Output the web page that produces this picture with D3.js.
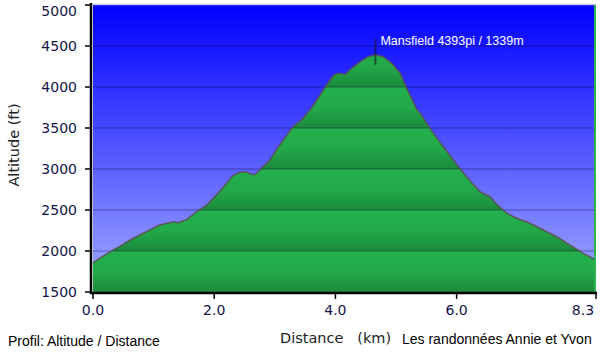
<!DOCTYPE html>
<html lang="fr">
<head>
<meta charset="UTF-8">
<title>Profil: Altitude / Distance</title>
<script src="https://d3js.org/d3.v7.min.js"></script>
<style>
  body { margin: 0; background: #fff; }
  .tick-label { font-family: "DejaVu Sans", Verdana, sans-serif; font-size: 14px; fill: #14144a; }
  .axis-title { font-family: "DejaVu Sans", Verdana, sans-serif; font-size: 14.5px; fill: #222; }
  .foot { font-family: "Liberation Sans", Arial, sans-serif; font-size: 14px; fill: #000; }
  .peak { font-family: "Liberation Sans", Arial, sans-serif; font-size: 12.5px; fill: #fff; }
</style>
</head>
<body>
<div id="chart"></div>
<script>
// profile: distance (km) and altitude (ft)
const distKm = [0.00, 0.15, 0.28, 0.45, 0.61, 0.83, 1.10, 1.33, 1.41, 1.55, 1.71, 1.88,
  2.10, 2.31, 2.43, 2.52, 2.62, 2.67, 2.76, 2.92, 3.05, 3.14, 3.30, 3.44, 3.58, 3.64,
  3.80, 3.97, 4.05, 4.16, 4.27, 4.41, 4.54, 4.66, 4.79, 4.93, 5.07, 5.18, 5.34, 5.40,
  5.56, 5.78, 6.03, 6.22, 6.39, 6.55, 6.66, 6.83, 6.99, 7.21, 7.43, 7.65, 7.87, 8.09, 8.30];
const altFt = [1855, 1930, 1990, 2060, 2134, 2216, 2317, 2357, 2345, 2385, 2480, 2560,
  2735, 2920, 2960, 2965, 2935, 2930, 2990, 3110, 3260, 3354, 3516, 3598, 3720, 3780,
  3963, 4146, 4167, 4155, 4228, 4309, 4370, 4393, 4370, 4289, 4167, 3980, 3730, 3679,
  3496, 3272, 3028, 2856, 2720, 2662, 2570, 2460, 2399, 2338, 2256, 2174, 2073, 1972, 1890];

const yTicks = [1500, 2000, 2500, 3000, 3500, 4000, 4500, 5000];
const xTicks = [0, 2, 4, 6, 8.3];
const xTickLabels = ["0.0", "2.0", "4.0", "6.0", "8.3"];

const peakKm = 4.66;
const peakFt = 4393;
const peakLabel = "Mansfield 4393pi / 1339m";

const W = 600, H = 354;
const pLeft = 93, pRight = 596, pTop = 5, pBottom = 292;

const x = d3.scaleLinear().domain([0, 8.3]).range([pLeft, pRight]);
const y = d3.scaleLinear().domain([1500, 5000]).range([pBottom, pTop]);

const svg = d3.select("#chart").append("svg")
  .attr("width", W).attr("height", H);

const defs = svg.append("defs");
const sky = defs.append("linearGradient").attr("id", "sky")
  .attr("x1", 0).attr("y1", 0).attr("x2", 0).attr("y2", 1);
sky.append("stop").attr("offset", "0%").attr("stop-color", "#0000ff");
sky.append("stop").attr("offset", "100%").attr("stop-color", "#a2abff");

// green repeats every 500 ft band
const grass = defs.append("linearGradient").attr("id", "grass")
  .attr("gradientUnits", "userSpaceOnUse")
  .attr("x1", 0).attr("x2", 0)
  .attr("y1", y(2000)).attr("y2", y(1500))
  .attr("spreadMethod", "repeat");
grass.append("stop").attr("offset", "0%").attr("stop-color", "#23b04d");
grass.append("stop").attr("offset", "50%").attr("stop-color", "#22a949");
grass.append("stop").attr("offset", "100%").attr("stop-color", "#1c8a3c");

svg.append("rect")
  .attr("x", pLeft).attr("y", pTop)
  .attr("width", pRight - pLeft).attr("height", pBottom - pTop)
  .attr("fill", "url(#sky)");

const pts = distKm.map((d, i) => [d, altFt[i]]);

svg.append("path")
  .datum(pts)
  .attr("fill", "url(#grass)")
  .attr("d", d3.area().x(d => x(d[0])).y0(y(1500)).y1(d => y(d[1])));

// grid lines
svg.selectAll(".grid")
  .data(yTicks.filter(t => t > 1500 && t < 5000))
  .enter().append("line")
  .attr("x1", pLeft).attr("x2", pRight)
  .attr("y1", d => y(d)).attr("y2", d => y(d))
  .attr("stroke", "rgba(0,0,40,0.25)")
  .attr("stroke-width", 1.5);

svg.append("path")
  .datum(pts)
  .attr("fill", "none")
  .attr("stroke", "#5e4c4c")
  .attr("stroke-opacity", 0.85)
  .attr("stroke-width", 1.5)
  .attr("d", d3.line().x(d => x(d[0])).y(d => y(d[1])));

// borders
svg.append("line")
  .attr("x1", pLeft).attr("x2", pRight).attr("y1", pTop - 0.5).attr("y2", pTop - 0.5)
  .attr("stroke", "#c4c4f4").attr("stroke-width", 1.5);
svg.append("line")
  .attr("x1", pRight - 1).attr("x2", pRight - 1).attr("y1", pTop).attr("y2", pBottom)
  .attr("stroke", "#2bb54f").attr("stroke-width", 2);

// peak marker
svg.append("line")
  .attr("x1", x(peakKm)).attr("x2", x(peakKm))
  .attr("y1", y(peakFt) - 16).attr("y2", y(peakFt) + 10)
  .attr("stroke", "rgba(20,20,40,0.6)").attr("stroke-width", 2);
svg.append("text").attr("class", "peak")
  .attr("x", x(peakKm) + 5).attr("y", y(peakFt) - 10)
  .text(peakLabel);

// y axis
svg.append("line")
  .attr("x1", pLeft - 2).attr("x2", pLeft - 2).attr("y1", pTop - 2).attr("y2", pBottom + 2)
  .attr("stroke", "#000").attr("stroke-width", 2.5);
svg.selectAll(".ytick")
  .data(yTicks).enter().append("line")
  .attr("x1", pLeft - 8).attr("x2", pLeft - 2)
  .attr("y1", d => y(d)).attr("y2", d => y(d))
  .attr("stroke", "#000").attr("stroke-width", 1.5);
svg.selectAll(".ylab")
  .data(yTicks).enter().append("text")
  .attr("class", "tick-label")
  .attr("x", pLeft - 16).attr("y", d => Math.max(y(d) + 5, 16))
  .attr("text-anchor", "end")
  .text(d => d);

// x axis
svg.append("line")
  .attr("x1", pLeft - 3).attr("x2", pRight + 1).attr("y1", pBottom + 1).attr("y2", pBottom + 1)
  .attr("stroke", "#000").attr("stroke-width", 2.5);
svg.selectAll(".xtick")
  .data(xTicks).enter().append("line")
  .attr("x1", d => x(d)).attr("x2", d => x(d))
  .attr("y1", pBottom + 1).attr("y2", pBottom + 7)
  .attr("stroke", "#000").attr("stroke-width", 1.5);
svg.selectAll(".xlab")
  .data(xTicks).enter().append("text")
  .attr("class", "tick-label")
  .attr("x", (d, i) => i === xTicks.length - 1 ? x(d) - 13 : x(d))
  .attr("y", 315)
  .attr("text-anchor", "middle")
  .text((d, i) => xTickLabels[i]);

// titles
svg.append("text").attr("class", "axis-title")
  .attr("transform", "translate(19,145) rotate(-90)")
  .attr("text-anchor", "middle")
  .text("Altitude (ft)");
svg.append("text").attr("class", "axis-title")
  .attr("x", 280).attr("y", 343)
  .attr("xml:space", "preserve")
  .text("Distance   (km)");

svg.append("text").attr("class", "foot")
  .attr("x", 8).attr("y", 346)
  .text("Profil: Altitude / Distance");
svg.append("text").attr("class", "foot")
  .attr("x", 402).attr("y", 344)
  .text("Les randonnées Annie et Yvon");
</script>
</body>
</html>
